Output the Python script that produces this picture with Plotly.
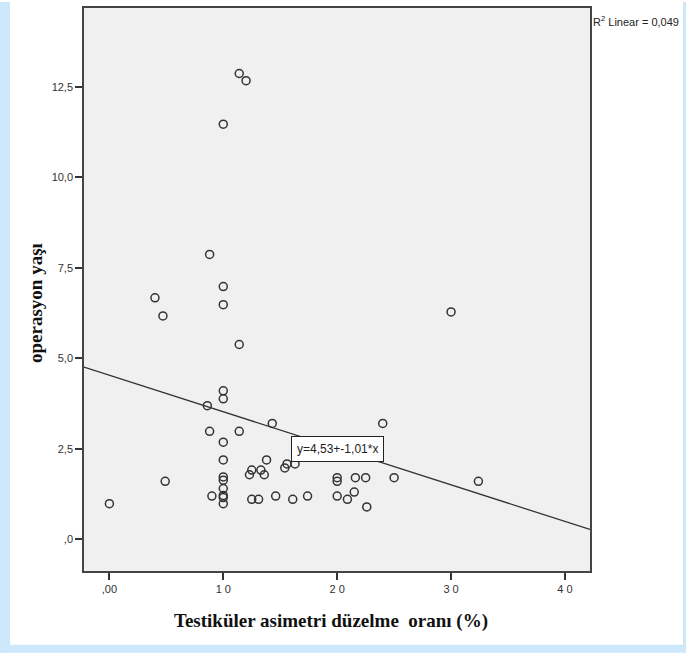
import plotly.graph_objects as go

# Data
x_vals = [1.14, 1.20, 1.00, 0.88, 1.00, 0.40, 1.00, 0.47, 1.14, 3.00,
          1.00, 1.00, 0.86, 1.43, 2.40, 0.88, 1.14, 1.00, 1.00, 1.38,
          1.25, 1.23, 1.33, 1.36, 1.54, 1.56, 1.63, 0.49, 1.00, 1.00,
          1.00, 1.00, 1.00, 1.00, 0.90, 0.00, 1.25, 1.31, 1.46, 1.61,
          1.74, 2.00, 2.00, 2.00, 2.16, 2.25, 2.15, 2.09, 2.26, 2.50, 3.24]
y_vals = [12.87, 12.67, 11.47, 7.87, 6.98, 6.67, 6.48, 6.17, 5.38, 6.28,
          4.10, 3.88, 3.69, 3.20, 3.20, 2.98, 2.98, 2.68, 2.19, 2.19,
          1.91, 1.78, 1.91, 1.78, 1.97, 2.08, 2.08, 1.60, 1.72, 1.63,
          1.40, 1.21, 1.15, 0.98, 1.19, 0.98, 1.10, 1.10, 1.19, 1.10,
          1.19, 1.70, 1.60, 1.19, 1.70, 1.70, 1.30, 1.10, 0.89, 1.70, 1.60]

intercept = 4.53
slope = -1.01
r2_text = "R<sup>2</sup> Linear = 0,049"
eq_text = "y=4,53+-1,01*x"

x_tickvals = [0, 1, 2, 3, 4]
x_ticktext = [",00", "1 0", "2 0", "3 0", "4 0"]
y_tickvals = [0, 2.5, 5, 7.5, 10, 12.5]
y_ticktext = [",0", "2,5", "5,0", "7,5", "10,0", "12,5"]

x_range = [-0.223, 4.22]
y_range = [-0.88, 14.68]

fig = go.Figure()

fig.add_trace(go.Scatter(
    x=[x_range[0], x_range[1]],
    y=[intercept + slope * x_range[0], intercept + slope * x_range[1]],
    mode="lines", line=dict(color="#333333", width=1.3),
    hoverinfo="skip", showlegend=False))

fig.add_trace(go.Scatter(
    x=x_vals, y=y_vals, mode="markers",
    marker=dict(symbol="circle-open", size=8, color="#333333",
                line=dict(width=1.5, color="#333333")),
    showlegend=False))

W, H = 686, 653
L, R, T, B = 84, 96, 6, 82
pw, ph = W - L - R, H - T - B

def px(xp):
    return (xp - L) / pw

def py(yp):
    return (H - B - yp) / ph

blue = "#cde8fb"
shapes = [
    dict(type="rect", xref="paper", yref="paper", x0=px(0), x1=px(10), y0=py(H), y1=py(0),
         fillcolor=blue, line=dict(width=0), layer="below"),
    dict(type="rect", xref="paper", yref="paper", x0=px(683), x1=px(W), y0=py(H), y1=py(0),
         fillcolor=blue, line=dict(width=0), layer="below"),
    dict(type="rect", xref="paper", yref="paper", x0=px(0), x1=px(W), y0=py(H), y1=py(645),
         fillcolor=blue, line=dict(width=0), layer="below"),
]

annotations = [
    dict(x=2.0, y=2.49, xref="x", yref="y", text=eq_text, showarrow=False,
         font=dict(family="Liberation Sans, Arial", size=12, color="#222222"),
         bgcolor="white", bordercolor="#222222", borderwidth=1, borderpad=5),
    dict(x=px(591), y=py(19), xref="paper", yref="paper", text=r2_text, showarrow=False,
         xanchor="left", yanchor="middle",
         font=dict(family="Liberation Sans, Arial", size=11, color="#222222")),
    dict(x=px(331), y=py(621), xref="paper", yref="paper",
         text="<b>Testiküler asimetri düzelme  oranı (%)</b>", showarrow=False,
         xanchor="center", yanchor="middle",
         font=dict(family="Liberation Serif, Times New Roman", size=19, color="#111111")),
    dict(x=px(36), y=py(302), xref="paper", yref="paper",
         text="<b>operasyon yaşı</b>", showarrow=False, textangle=-90,
         xanchor="center", yanchor="middle",
         font=dict(family="Liberation Serif, Times New Roman", size=19, color="#111111")),
]

axis_common = dict(showgrid=False, zeroline=False, showline=True, mirror=True,
                   linecolor="#444444", linewidth=1.5, ticks="outside", ticklen=7,
                   tickwidth=1.5, tickcolor="#333333",
                   tickfont=dict(family="Liberation Sans, Arial", size=11, color="#333333"))

fig.update_layout(
    width=W, height=H,
    margin=dict(l=L, r=R, t=T, b=B),
    paper_bgcolor="white", plot_bgcolor="#f0f0f0",
    xaxis=dict(range=x_range, tickvals=x_tickvals, ticktext=x_ticktext, **axis_common),
    yaxis=dict(range=y_range, tickvals=y_tickvals, ticktext=y_ticktext, **axis_common),
    shapes=shapes, annotations=annotations,
)

fig.write_html("out.html", config={"displayModeBar": False},
               post_script="document.body.style.margin='0';document.body.style.padding='0';")
